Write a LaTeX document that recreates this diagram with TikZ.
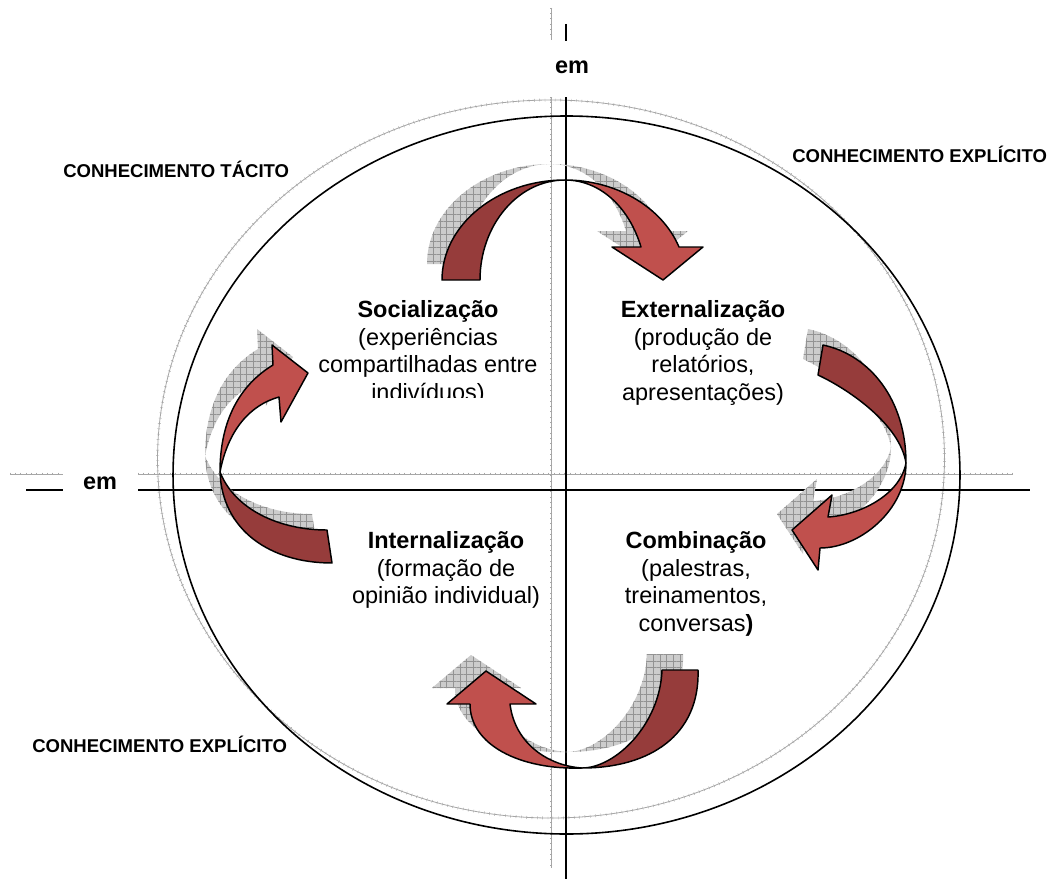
\documentclass[tikz,border=0pt]{standalone}
\usepackage{fontspec}
\setmainfont{Liberation Sans}
\usetikzlibrary{patterns.meta,decorations.pathreplacing}
\definecolor{redlight}{HTML}{C0504D}
\definecolor{reddark}{HTML}{963C3B}
\tikzset{
  blk/.style={draw=black, line width=1.2pt},
  grayln/.style={draw=gray!70, line width=0.6pt,
     postaction={draw=gray!70, line width=0.3pt, decorate,
       decoration={ticks, segment length=4pt, amplitude=1.1pt}}},
  shadowfill/.style={fill=gray!40,
     postaction={pattern={Lines[angle=0,distance=5pt,line width=0.35pt]}, pattern color=gray!85},
     postaction={pattern={Lines[angle=90,distance=5pt,line width=0.35pt]}, pattern color=gray!85}},
  lightpart/.style={fill=redlight, draw=black, line width=1.1pt, line join=round},
  darkpart/.style={fill=reddark, draw=black, line width=1.1pt, line join=round},
  maintxt/.style={font=\fontsize{17.6}{20}\selectfont, inner sep=0pt, anchor=base},
  boldtxt/.style={font=\fontsize{17.6}{20}\selectfont\bfseries, inner sep=0pt, anchor=base},
  cornertxt/.style={font=\fontsize{13.9}{16}\selectfont\bfseries, inner sep=0pt, anchor=base west},
}
% arrow shapes (pixel coordinates)
\newcommand\topDark[1]{\path[#1] (442,280) -- (480,280) .. controls (480,225) and (518,180) .. (565,180) .. controls (497,180) and (442,225) .. (442,280) -- cycle;}
\newcommand\topLight[1]{\path[#1] (565,180) .. controls (616,180) and (662,207) .. (679,247) -- (703,247) -- (663,280) -- (612,247) -- (641,247) .. controls (629,207) and (600,180) .. (565,180) -- cycle;}
\newcommand\rightDark[1]{\path[#1] (823,345) .. controls (870,355) and (906,400) .. (906,463) .. controls (900,425) and (850,390) .. (818,375) -- cycle;}
\newcommand\rightLight[1]{\path[#1] (906,463) .. controls (906,510) and (860,548) .. (820,548) -- (818,570) -- (792,530) -- (832,495) -- (828,517) .. controls (860,515) and (900,495) .. (906,463) -- cycle;}
\newcommand\bottomDark[1]{\path[#1] (698,670) .. controls (700,735) and (650,768) .. (582,768) .. controls (615,768) and (660,725) .. (662,670) -- cycle;}
\newcommand\bottomLight[1]{\path[#1] (582,768) .. controls (520,770) and (470,745) .. (470,704) -- (447,704) -- (486,671) -- (536,704) -- (510,704) .. controls (515,745) and (550,766) .. (582,768) -- cycle;}
\newcommand\leftDark[1]{\path[#1] (220,472) .. controls (222,530) and (270,563) .. (332,563) -- (327,530) .. controls (280,530) and (235,510) .. (220,472) -- cycle;}
\newcommand\leftLight[1]{\path[#1] (220,472) .. controls (220,420) and (240,385) .. (273,365) -- (272,345) -- (308,373) -- (281,422) -- (279,397) .. controls (250,405) and (228,430) .. (220,472) -- cycle;}
\begin{document}
\begin{tikzpicture}[x=0.75pt, y=-0.75pt]
\useasboundingbox[fill=white] (0,0) rectangle (1052,881);

% gray (shadow) frame
\draw[grayln] (551,459) ellipse [x radius=295.1pt, y radius=269.25pt];
\draw[grayln] (551,8) -- (551,40);
\draw[grayln] (551,97) -- (551,868);
\draw[grayln] (10,474) -- (63,474);
\draw[grayln] (138,474) -- (1013,474);

% black frame
\draw[blk] (566.5,475) ellipse [x radius=295.1pt, y radius=269.25pt];
\draw[blk] (566,24) -- (566,41);
\draw[blk] (566,97) -- (566,879);
\draw[blk] (26,490) -- (63,490);
\draw[blk] (138,490) -- (1030,490);

% shadows
\begin{scope}[shift={(-15,-16)}]
\topDark{shadowfill}\topLight{shadowfill}
\rightDark{shadowfill}\rightLight{shadowfill}
\bottomDark{shadowfill}\bottomLight{shadowfill}
\leftDark{shadowfill}\leftLight{shadowfill}
\end{scope}

% arrows
\topDark{darkpart}\topLight{lightpart}
\rightDark{darkpart}\rightLight{lightpart}
\bottomDark{darkpart}\bottomLight{lightpart}
\leftDark{darkpart}\leftLight{lightpart}

% labels
\node[boldtxt] (emtop) at (572,74) {em};
\node[boldtxt] (emleft) at (100,489) {em};
\node[cornertxt] (tacito) at (63,177.3) {CONHECIMENTO TÁCITO};
\node[cornertxt] (explicitoA) at (792,162.3) {CONHECIMENTO EXPLÍCITO};
\node[cornertxt] (explicitoB) at (32,752) {CONHECIMENTO EXPLÍCITO};

\node[boldtxt] (s1) at (428,317.5) {Socialização};
\node[maintxt] (s2) at (428,345) {(experiências};
\node[maintxt] (s3) at (428,372.5) {compartilhadas entre};
\begin{scope}
\clip (300,380) rectangle (560,397);
\node[maintxt] (s4) at (428,400) {indivíduos)};
\end{scope}

\node[boldtxt] (e1) at (703,317.5) {Externalização};
\node[maintxt] (e2) at (703,345) {(produção de};
\node[maintxt] (e3) at (703,372.5) {relatórios,};
\node[maintxt] (e4) at (703,400) {apresentações)};

\node[boldtxt] (i1) at (446,548) {Internalização};
\node[maintxt] (i2) at (446,576) {(formação de};
\node[maintxt] (i3) at (446,603.5) {opinião individual)};

\node[boldtxt] (c1) at (696,548) {Combinação};
\node[maintxt] (c2) at (696,576) {(palestras,};
\node[maintxt] (c3) at (696,603.5) {treinamentos,};
\node[maintxt] (c4) at (696,631) {conversas\textbf{)}};
\end{tikzpicture}
\end{document}
